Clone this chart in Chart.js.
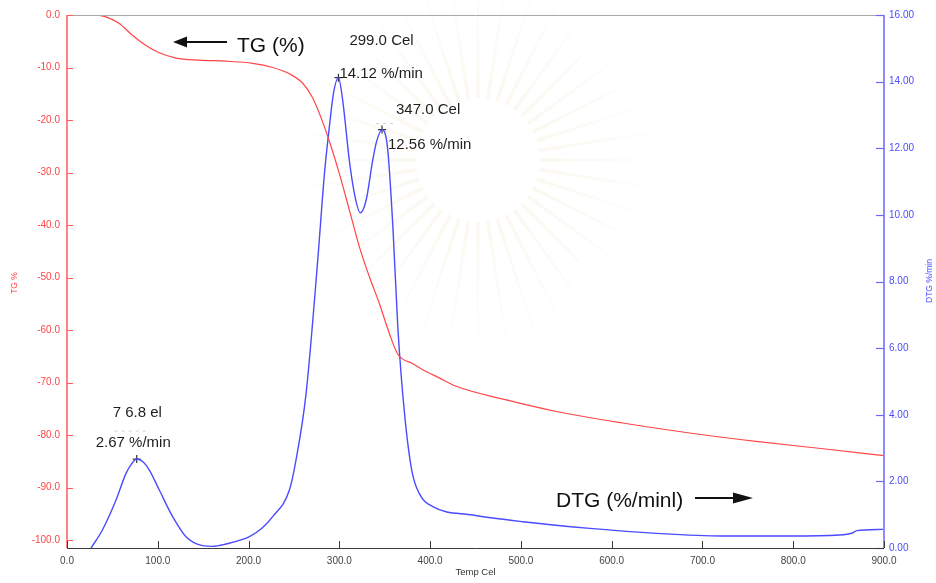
<!DOCTYPE html>
<html>
<head>
<meta charset="utf-8">
<script src="https://cdn.jsdelivr.net/npm/chart.js@4.4.0/dist/chart.umd.min.js"></script>
<style>
    html, body { margin: 0; padding: 0; background: #fff; }
    #wrap { width: 936px; height: 583px; }
</style>
</head>
<body>
<div id="wrap"><canvas id="graficoTG" width="936" height="583"></canvas></div>
<script>
// TG curve (mass %, left axis)
let tempTG = [0, 30, 42, 57.6, 72.3, 87, 101.7, 120, 145.8, 175, 204.6, 226.6, 245, 259.7, 270.7, 281.7, 291, 300, 311, 322, 333, 344, 355, 364.4, 381, 395.7, 410, 428.7, 484, 539, 612, 686, 759, 833, 900]
let tgValues = [0, 0, -0.3, -1.6, -3.9, -5.8, -7.2, -8.2, -8.6, -8.8, -9.2, -10.0, -11.2, -13.0, -15.8, -20.4, -25.1, -30.2, -37.1, -44.1, -49.8, -54.9, -60.6, -64.6, -66.4, -67.9, -69.1, -70.7, -73.3, -75.5, -77.7, -79.6, -81.2, -82.6, -83.9]

// DTG curve (%/min, right axis)
let tempDTG = [26.5, 39, 54, 65, 71, 76.8, 84, 90.7, 101.7, 116.4, 131, 149.5, 160, 175, 201, 215, 226.6, 245, 252, 263.4, 276.2, 283.6, 289, 293.5, 299, 303.7, 311, 316.6, 323, 329.5, 336.8, 341, 347, 353, 359, 364.4, 371.8, 380, 388, 403, 447, 502, 576, 649, 722, 796, 851, 865, 870, 899]
let dtgValues = [0, 0.54, 1.44, 2.24, 2.52, 2.67, 2.58, 2.34, 1.74, 0.94, 0.34, 0.07, 0.05, 0.12, 0.34, 0.6, 0.94, 1.74, 2.6, 4.64, 8.64, 11.24, 12.64, 13.64, 14.12, 13.44, 11.64, 10.64, 10.06, 10.44, 11.64, 12.2, 12.56, 12.04, 9.64, 6.64, 4.04, 2.3, 1.64, 1.24, 0.99, 0.79, 0.59, 0.44, 0.36, 0.36, 0.39, 0.45, 0.52, 0.56]

let xTicks = [0, 100, 200, 300, 400, 500, 600, 700, 800, 900]
let tgTicks = [0, -10, -20, -30, -40, -50, -60, -70, -80, -90, -100]
let dtgTicks = [0, 2, 4, 6, 8, 10, 12, 14, 16]

let peakTemps = [76.8, 299.0, 347.0]
let peakRates = [2.67, 14.12, 12.56]
let peakTopLabels = ['7 6.8 el', '299.0 Cel', '347.0 Cel']
let peakRateLabels = ['2.67 %/min', '14.12 %/min', '12.56 %/min']

// label offsets from each peak marker (pixels)
let peakOffsets = [
    { tx: -24, ty: -46, rx: -41, ry: -16, dash: [-22, 13, -28] },
    { tx: 11, ty: -37, rx: 1, ry: -4, dash: null },
    { tx: 14, ty: -20, rx: 6, ry: 15, dash: [-6, 14, -6] }
]

const rojo = '#ff4545'
const azul = '#4b4bff'
const fuente = 'Liberation Sans, Arial, sans-serif'

function puntos(xs, ys) {
    return xs.map((x, i) => ({ x: x, y: ys[i] }))
}

// faint sunburst of the watermark behind the curves
const fondo = {
    id: 'fondo',
    beforeDatasetsDraw(chart) {
        let ctx = chart.ctx
        let cx = 478, cy = 160
        ctx.save()
        let grad = ctx.createRadialGradient(cx, cy, 55, cx, cy, 240)
        grad.addColorStop(0, 'rgba(240, 230, 200, 0.28)')
        grad.addColorStop(1, 'rgba(240, 230, 200, 0)')
        ctx.fillStyle = grad
        for (let i = 0; i < 40; i++) {
            let a = i / 40 * Math.PI * 2
            let w = 0.03
            ctx.beginPath()
            ctx.moveTo(cx + Math.cos(a - w) * 62, cy + Math.sin(a - w) * 62)
            ctx.lineTo(cx + Math.cos(a) * 240, cy + Math.sin(a) * 240)
            ctx.lineTo(cx + Math.cos(a + w) * 62, cy + Math.sin(a + w) * 62)
            ctx.closePath()
            ctx.fill()
        }
        ctx.restore()
    }
}

// axes lines, inward ticks, axis titles and notes
const ejes = {
    id: 'ejes',
    afterDraw(chart) {
        let ctx = chart.ctx
        let a = chart.chartArea
        let x = chart.scales.x
        let yTG = chart.scales.yTG
        let yDTG = chart.scales.yDTG
        ctx.save()

        // top border
        ctx.strokeStyle = '#a8a8a8'
        ctx.lineWidth = 1
        ctx.beginPath()
        ctx.moveTo(a.left, a.top + 0.5)
        ctx.lineTo(a.right, a.top + 0.5)
        ctx.stroke()

        // left axis
        ctx.strokeStyle = '#ff5a5a'
        ctx.lineWidth = 1.5
        ctx.beginPath()
        ctx.moveTo(a.left, a.top)
        ctx.lineTo(a.left, a.bottom)
        ctx.stroke()
        ctx.lineWidth = 1
        yTG.ticks.forEach(t => {
            let py = Math.round(yTG.getPixelForValue(t.value)) + 0.5
            ctx.beginPath()
            ctx.moveTo(a.left, py)
            ctx.lineTo(a.left + 6, py)
            ctx.stroke()
        })

        // right axis
        ctx.strokeStyle = '#8c8cff'
        ctx.lineWidth = 2
        ctx.beginPath()
        ctx.moveTo(a.right, a.top)
        ctx.lineTo(a.right, a.bottom)
        ctx.stroke()
        ctx.lineWidth = 1.2
        ctx.strokeStyle = '#6a6aff'
        yDTG.ticks.forEach(t => {
            let py = Math.round(yDTG.getPixelForValue(t.value)) + 0.5
            ctx.beginPath()
            ctx.moveTo(a.right - 8, py)
            ctx.lineTo(a.right, py)
            ctx.stroke()
        })

        // bottom axis
        ctx.strokeStyle = '#3a3a3a'
        ctx.lineWidth = 1
        ctx.beginPath()
        ctx.moveTo(a.left, a.bottom + 0.5)
        ctx.lineTo(a.right, a.bottom + 0.5)
        ctx.stroke()
        x.ticks.forEach(t => {
            let px = Math.round(x.getPixelForValue(t.value)) + 0.5
            ctx.beginPath()
            ctx.moveTo(px, a.bottom)
            ctx.lineTo(px, a.bottom - 7)
            ctx.stroke()
        })

        // vertical axis titles, both read bottom to top
        ctx.font = '8.5px ' + fuente
        ctx.textAlign = 'center'
        ctx.textBaseline = 'middle'
        ctx.fillStyle = rojo
        ctx.save()
        ctx.translate(15, 283)
        ctx.rotate(-Math.PI / 2)
        ctx.fillText('TG %', 0, 0)
        ctx.restore()
        ctx.fillStyle = azul
        ctx.save()
        ctx.translate(930, 281)
        ctx.rotate(-Math.PI / 2)
        ctx.fillText('DTG %/min', 0, 0)
        ctx.restore()

        // peak labels
        ctx.fillStyle = '#1e1e1e'
        ctx.textAlign = 'left'
        ctx.font = '15px ' + fuente
        peakTemps.forEach((t, i) => {
            let px = x.getPixelForValue(t)
            let py = yDTG.getPixelForValue(peakRates[i])
            let o = peakOffsets[i]
            ctx.fillText(peakTopLabels[i], px + o.tx, py + o.ty)
            ctx.fillText(peakRateLabels[i], px + o.rx, py + o.ry)
            if (o.dash) {
                ctx.save()
                ctx.strokeStyle = '#d0d0d0'
                ctx.setLineDash([3, 4])
                ctx.beginPath()
                ctx.moveTo(px + o.dash[0], py + o.dash[2])
                ctx.lineTo(px + o.dash[1], py + o.dash[2])
                ctx.stroke()
                ctx.restore()
            }
        })

        // TG / DTG notes with arrows
        ctx.font = '21px ' + fuente
        ctx.fillStyle = '#111'
        ctx.fillText('TG (%)', 237, 46)
        ctx.fillText('DTG (%/minl)', 556, 501)
        ctx.strokeStyle = '#111'
        ctx.lineWidth = 2
        ctx.beginPath()
        ctx.moveTo(227, 42)
        ctx.lineTo(185, 42)
        ctx.moveTo(695, 498)
        ctx.lineTo(735, 498)
        ctx.stroke()
        ctx.beginPath()
        ctx.moveTo(173, 42)
        ctx.lineTo(187, 36.5)
        ctx.lineTo(187, 47.5)
        ctx.closePath()
        ctx.moveTo(753, 498)
        ctx.lineTo(733, 492.5)
        ctx.lineTo(733, 503.5)
        ctx.closePath()
        ctx.fill()

        ctx.restore()
    }
}

const canvas = document.getElementById('graficoTG')

var grafico = new Chart(canvas, {
    type: 'line',
    data: {
        datasets: [
            {
                label: 'TG',
                data: puntos(tempTG, tgValues),
                yAxisID: 'yTG',
                borderColor: rojo,
                borderWidth: 1.2,
                pointRadius: 0,
                cubicInterpolationMode: 'monotone'
            },
            {
                label: 'DTG',
                data: puntos(tempDTG, dtgValues),
                yAxisID: 'yDTG',
                borderColor: azul,
                borderWidth: 1.4,
                pointRadius: 0,
                cubicInterpolationMode: 'monotone'
            },
            {
                label: 'Picos',
                data: puntos(peakTemps, peakRates),
                yAxisID: 'yDTG',
                showLine: false,
                pointStyle: 'cross',
                pointRadius: 4,
                borderColor: '#333',
                borderWidth: 1.2
            }
        ]
    },
    options: {
        responsive: false,
        animation: false,
        devicePixelRatio: 1,
        layout: { padding: { top: 15, left: 0, right: 0, bottom: 0 } },
        plugins: {
            legend: { display: false },
            tooltip: { enabled: false }
        },
        scales: {
            x: {
                type: 'linear',
                min: 0,
                max: 900,
                grid: { display: false, drawTicks: false },
                border: { display: false },
                afterBuildTicks: s => { s.ticks = xTicks.map(v => ({ value: v })) },
                afterFit: s => { s.height = 35 },
                ticks: {
                    callback: v => v.toFixed(1),
                    color: '#444',
                    font: { family: fuente, size: 10 },
                    padding: 7,
                    maxRotation: 0,
                    autoSkip: false
                },
                title: {
                    display: true,
                    text: 'Temp Cel',
                    color: '#333',
                    font: { family: fuente, size: 9.5 },
                    padding: { top: 0, bottom: 5 }
                }
            },
            yTG: {
                type: 'linear',
                position: 'left',
                min: -101.5,
                max: 0,
                grid: { display: false, drawTicks: false },
                border: { display: false },
                afterBuildTicks: s => { s.ticks = tgTicks.map(v => ({ value: v })) },
                afterFit: s => { s.width = 67 },
                ticks: {
                    callback: v => v.toFixed(1),
                    color: rojo,
                    font: { family: fuente, size: 10 },
                    padding: 7
                }
            },
            yDTG: {
                type: 'linear',
                position: 'right',
                min: 0,
                max: 16,
                grid: { display: false, drawTicks: false },
                border: { display: false },
                afterBuildTicks: s => { s.ticks = dtgTicks.map(v => ({ value: v })) },
                afterFit: s => { s.width = 52 },
                ticks: {
                    callback: v => v.toFixed(2),
                    color: azul,
                    font: { family: fuente, size: 10 },
                    padding: 5
                }
            }
        }
    },
    plugins: [fondo, ejes]
})
</script>
</body>
</html>
